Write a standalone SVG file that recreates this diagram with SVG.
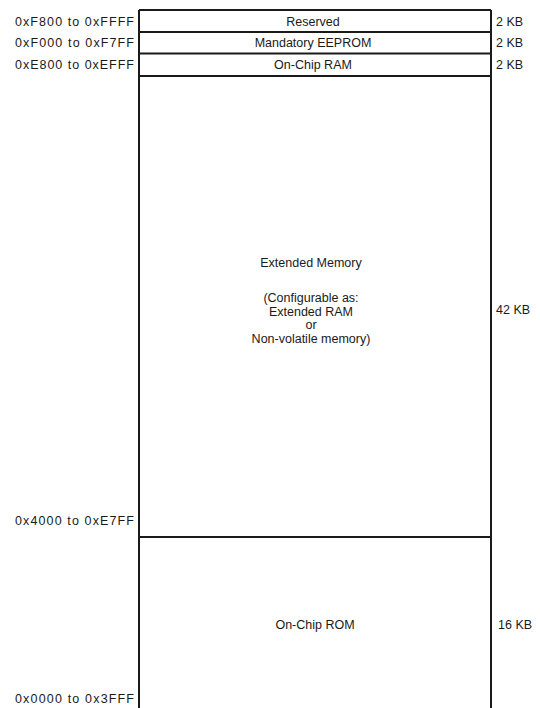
<svg xmlns="http://www.w3.org/2000/svg" width="540" height="708" viewBox="0 0 540 708">
<style>
text{font-family:"Liberation Sans",Arial,sans-serif;font-size:12.5px;fill:#1a1a1a}
.c{text-anchor:middle}
.a{text-anchor:end}
.ln{stroke:#1a1a1a;stroke-width:2;fill:none}
</style>
<rect width="540" height="708" fill="#fff"/>
<g id="connectors">
<line class="ln" x1="139" y1="10" x2="139" y2="708"/>
<line class="ln" x1="491" y1="10" x2="491" y2="708"/>
<line class="ln" x1="139" y1="10" x2="491" y2="10"/>
<line class="ln" x1="139" y1="32" x2="491" y2="32"/>
<line class="ln" x1="139" y1="53.5" x2="491" y2="53.5"/>
<line class="ln" x1="139" y1="76" x2="491" y2="76"/>
<line class="ln" x1="139" y1="537" x2="491" y2="537"/>
</g>
<g id="reserved">
<text class="a" x="134" y="25.5" textLength="119" lengthAdjust="spacing">0xF800 to 0xFFFF</text>
<text class="c" x="313" y="25.5">Reserved</text>
<text x="496" y="25.5">2 KB</text>
</g>
<g id="eeprom">
<text class="a" x="134" y="47" textLength="119" lengthAdjust="spacing">0xF000 to 0xF7FF</text>
<text class="c" x="313" y="47">Mandatory EEPROM</text>
<text x="496" y="47">2 KB</text>
</g>
<g id="ram">
<text class="a" x="134" y="68.5" textLength="119" lengthAdjust="spacing">0xE800 to 0xEFFF</text>
<text class="c" x="313" y="68.5">On-Chip RAM</text>
<text x="496" y="68.5">2 KB</text>
</g>
<g id="extended">
<text class="c" x="311" y="267">Extended Memory</text>
<text class="c" x="311" y="302">(Configurable as:</text>
<text class="c" x="311" y="315.5">Extended RAM</text>
<text class="c" x="311" y="329">or</text>
<text class="c" x="311" y="342.5">Non-volatile memory)</text>
<text x="496" y="314">42 KB</text>
<text class="a" x="134" y="525" textLength="119" lengthAdjust="spacing">0x4000 to 0xE7FF</text>
</g>
<g id="rom">
<text class="c" x="315" y="629">On-Chip ROM</text>
<text x="498" y="629">16 KB</text>
<text class="a" x="134" y="703" textLength="119" lengthAdjust="spacing">0x0000 to 0x3FFF</text>
</g>
</svg>
